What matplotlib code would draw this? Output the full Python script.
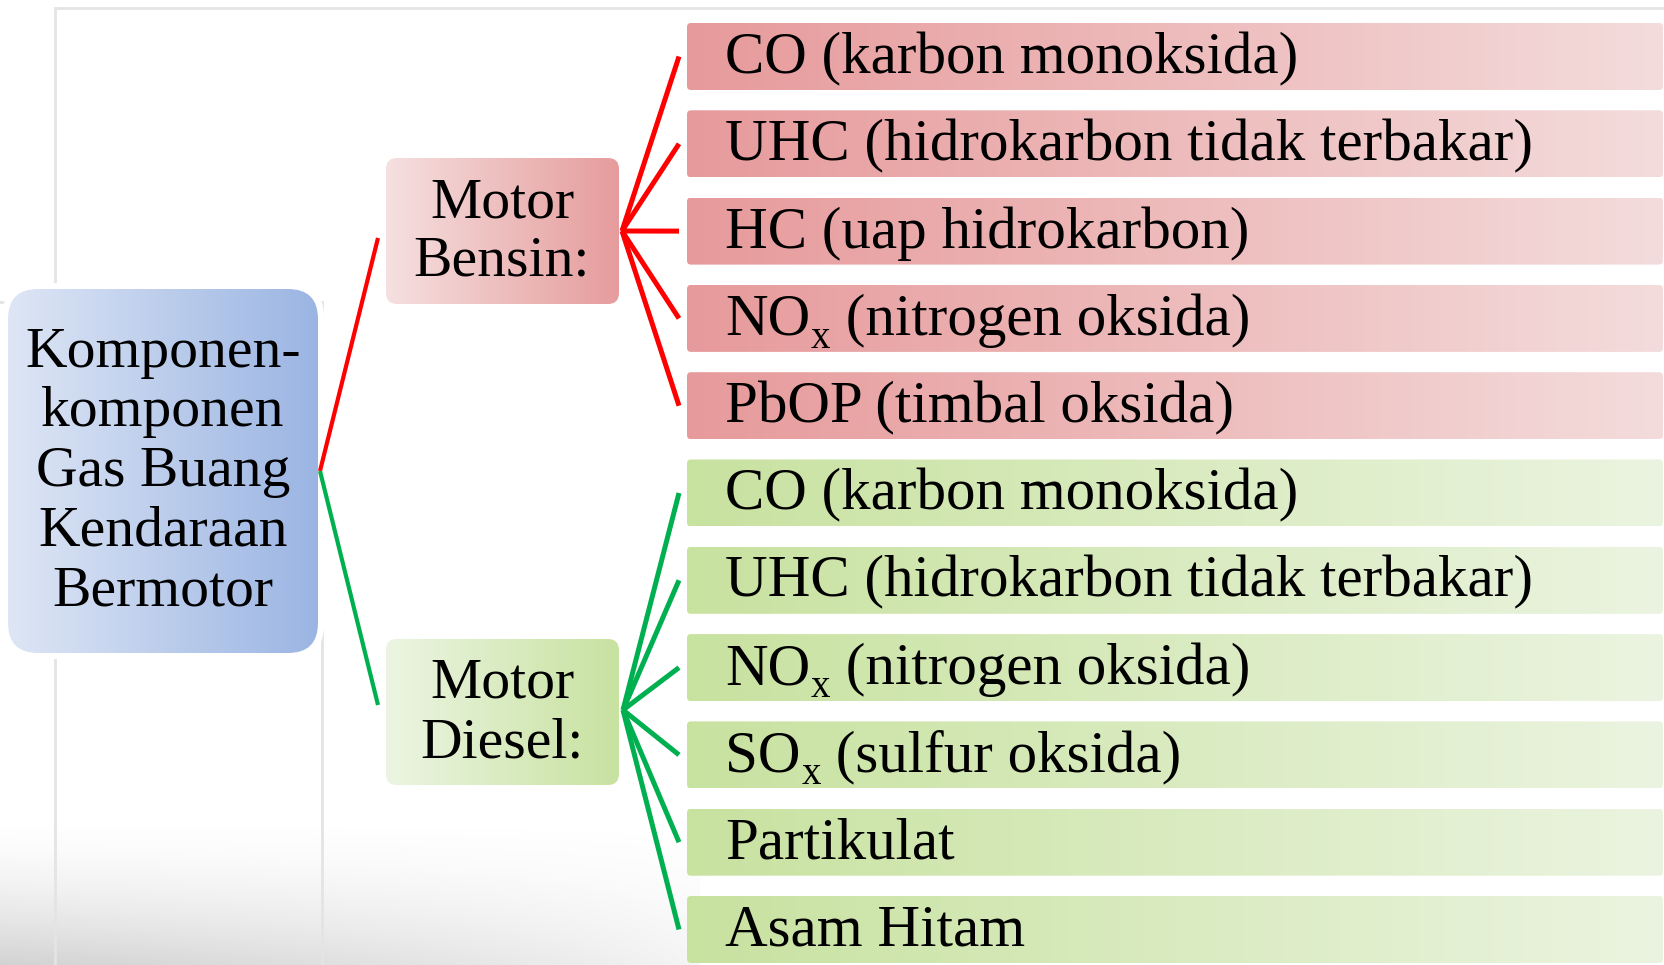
import matplotlib
matplotlib.use("Agg")
import matplotlib.pyplot as plt
import numpy as np
from matplotlib.patches import FancyBboxPatch
from matplotlib.colors import to_rgb

plt.rcParams['font.family'] = ['Liberation Serif', 'DejaVu Serif']

# isi diagram
judul = ["Komponen-", "komponen", "Gas Buang", "Kendaraan", "Bermotor"]
cabang = [["Motor", "Bensin:"], ["Motor", "Diesel:"]]
# "_x" menandai huruf x yang ditulis sebagai subskrip
bensin = ["CO (karbon monoksida)",
          "UHC (hidrokarbon tidak terbakar)",
          "HC (uap hidrokarbon)",
          "NO_x (nitrogen oksida)",
          "PbOP (timbal oksida)"]
diesel = ["CO (karbon monoksida)",
          "UHC (hidrokarbon tidak terbakar)",
          "NO_x (nitrogen oksida)",
          "SO_x (sulfur oksida)",
          "Partikulat",
          "Asam Hitam"]

W, H = 1665, 965
fig = plt.figure(figsize=(W / 100, H / 100), dpi=100)
ax = fig.add_axes([0, 0, 1, 1])
ax.axis('off')
ax.set_xlim(0, W)
ax.set_ylim(H, 0)
rend = fig.canvas.get_renderer()


def kotak(x0, y0, w, h, c1, c2, r, z=2):
    p = FancyBboxPatch((x0, y0), w, h, boxstyle=f"round,pad=0,rounding_size={r}",
                       facecolor='none', edgecolor='none', zorder=z)
    ax.add_patch(p)
    a, b = np.array(to_rgb(c1)), np.array(to_rgb(c2))
    t = np.linspace(0, 1, 256)[None, :, None]
    img = a + (b - a) * t
    im = ax.imshow(img, extent=(x0, x0 + w, y0 + h, y0), aspect='auto',
                   zorder=z, interpolation='bilinear')
    im.set_clip_path(p)


def tulis(x, y, s, fs):
    # teks dengan subskrip x yang diturunkan
    if '_x' not in s:
        ax.text(x, y, s, ha='left', va='baseline', fontsize=fs, zorder=5)
        return
    kepala, ekor = s.split('_x')
    t1 = ax.text(x, y, kepala, ha='left', va='baseline', fontsize=fs, zorder=5)
    x1 = t1.get_window_extent(rend).x1
    t2 = ax.text(x1 + 1, y + 13, 'x', ha='left', va='baseline', fontsize=fs * 0.66, zorder=5)
    x2 = t2.get_window_extent(rend).x1
    ax.text(x2, y, ekor, ha='left', va='baseline', fontsize=fs, zorder=5)


# bingkai abu-abu di belakang
abu = '#e4e4e4'
ax.plot([55, W], [8, 8], color=abu, lw=2, zorder=1)
ax.plot([55, 55], [8, H], color=abu, lw=2, zorder=1)
ax.plot([0, 20], [302, 302], color=abu, lw=2, zorder=1)
ax.plot([322, 322], [302, H], color=abu, lw=2, zorder=1)

# bayangan di bagian bawah
yy, xx = np.mgrid[800:H, 0:700]
alpha = np.clip((yy - 815) / 150, 0, 1) ** 1.6 * np.clip(1 - xx / 760, 0, 1) ** 0.6 * 0.32
sh = np.zeros(yy.shape + (4,))
sh[..., :3] = 0.45
sh[..., 3] = alpha
ax.imshow(sh, extent=(0, 700, H, 800), aspect='auto', zorder=0.5)

# kotak utama
ax.add_patch(FancyBboxPatch((8, 289), 310, 364, boxstyle="round,pad=6,rounding_size=34",
                            facecolor='white', edgecolor='none', zorder=1.5))
kotak(8, 289, 310, 364, '#dee6f5', '#9bb5e3', 30)
for i, s in enumerate(judul):
    ax.text(163, 367 + i * 59.5, s, ha='center', va='baseline', fontsize=41.5, zorder=5)

# kotak cabang
cabang_y = [158, 639]
cabang_warna = [('#f6e0e0', '#e69c9c'), ('#ecf5e3', '#c8e2a0')]
for (a, b), y0, (c1, c2) in zip(cabang, cabang_y, cabang_warna):
    kotak(386, y0, 233, 146, c1, c2, 11)
    ax.text(502, y0 + 59, a, ha='center', va='baseline', fontsize=41.5, zorder=5)
    ax.text(502, y0 + 118, b, ha='center', va='baseline', fontsize=41.5, zorder=5)

# kotak daftar
items = bensin + diesel
warna = [('#e79a9b', '#f4dcdc')] * len(bensin) + [('#c8e2a0', '#ebf4e0')] * len(diesel)
pusat = []
for i, (s, (c1, c2)) in enumerate(zip(items, warna)):
    y0 = 23 + i * 87.3
    kotak(687, y0, 976, 67, c1, c2, 4)
    tulis(725, y0 + 50, s, 42.5)
    pusat.append(y0 + 33.5)

# garis penghubung
merah, hijau = '#ff0000', '#00b050'
ax.plot([320, 378], [471, 238], color=merah, lw=3, zorder=3, solid_capstyle='butt')
ax.plot([320, 378], [471, 705], color=hijau, lw=3, zorder=3, solid_capstyle='butt')
for c in pusat[:len(bensin)]:
    ax.plot([622, 679], [231, c], color=merah, lw=3.6, zorder=3, solid_capstyle='butt')
for c in pusat[len(bensin):]:
    ax.plot([623, 679], [710, c], color=hijau, lw=3.6, zorder=3, solid_capstyle='butt')

ax.set_xlim(0, W)
ax.set_ylim(H, 0)
fig.savefig('out.png', dpi=100, facecolor='white')
